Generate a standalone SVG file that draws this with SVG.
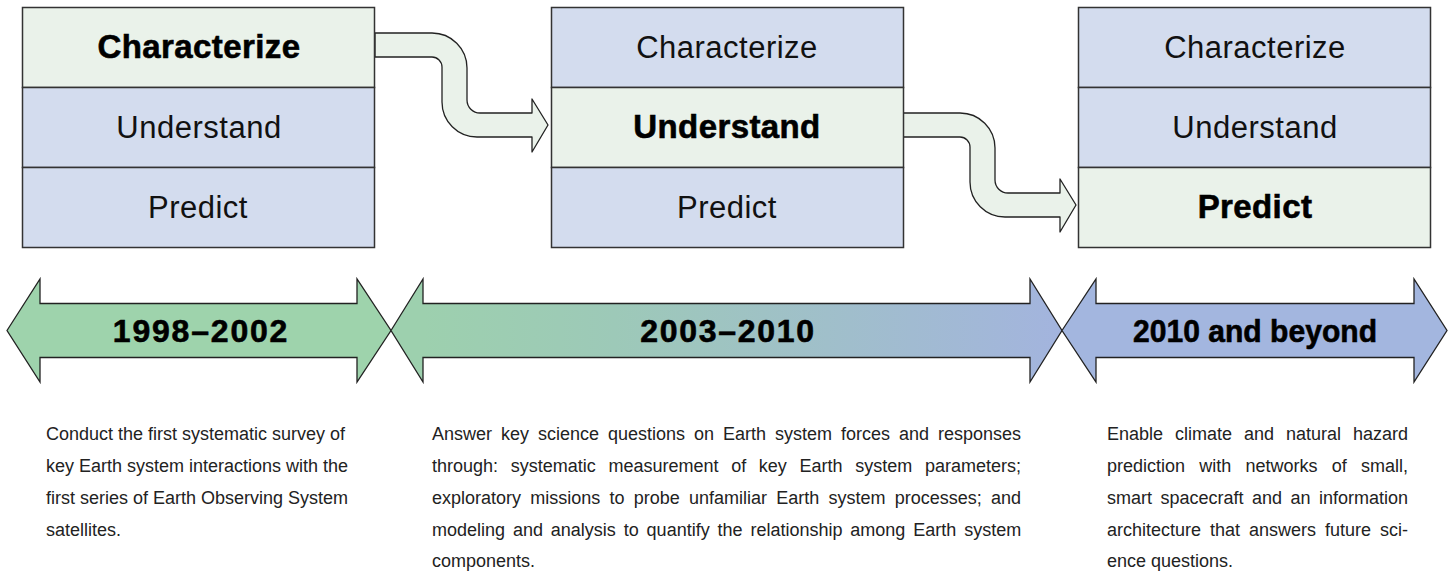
<svg xmlns="http://www.w3.org/2000/svg" width="1453" height="573" viewBox="0 0 1453 573">
<style>
.row{fill:#d3dcee;stroke:#333;stroke-width:1.5}
.hi{fill:#eaf2ea;stroke:#333;stroke-width:1.5}
.lbl{font-family:"Liberation Sans",Arial,sans-serif;font-size:31px;fill:#111;text-anchor:middle;letter-spacing:0.5px}
.lblb{font-family:"Liberation Sans",Arial,sans-serif;font-size:33px;font-weight:bold;fill:#000;text-anchor:middle;letter-spacing:0.4px;stroke:#000;stroke-width:0.6}
.conn{fill:#eaf2ea;stroke:#222;stroke-width:1.3;stroke-linejoin:round}
.tl{stroke:#222;stroke-width:1.3;stroke-linejoin:miter}
.tlt{font-family:"Liberation Sans",Arial,sans-serif;font-size:32px;font-weight:bold;fill:#000;text-anchor:middle;stroke:#000;stroke-width:0.6}
.desc{font-family:"Liberation Sans",Arial,sans-serif;font-size:18px;fill:#222}
</style>
<defs>
<linearGradient id="g2" gradientUnits="userSpaceOnUse" x1="423" y1="0" x2="1062" y2="0">
<stop offset="0" stop-color="#9dd0ae"/>
<stop offset="0.3" stop-color="#9dc9b8"/>
<stop offset="1" stop-color="#a3b4de"/>
</linearGradient>
<path id="conn" d="M375,33 H432 A35,35 0 0 1 467,68 V100 A13,13 0 0 0 480,113 H532 V99 L548,125 L532,152 V137 H477 A35,35 0 0 1 442,102 V67 A10,10 0 0 0 432,57 H375 Z"/>
</defs>

<g id="connectors">
<use href="#conn" class="conn"/>
<use href="#conn" class="conn" transform="translate(528,80)"/>
</g>

<g id="box1">
<rect class="hi" x="22.5" y="7.5" width="352" height="80"/>
<rect class="row" x="22.5" y="87.5" width="352" height="80"/>
<rect class="row" x="22.5" y="167.5" width="352" height="80"/>
<text class="lblb" x="199" y="58">Characterize</text>
<text class="lbl" x="199" y="138">Understand</text>
<text class="lbl" x="198" y="218">Predict</text>
</g>

<g id="box2">
<rect class="row" x="551.5" y="7.5" width="352" height="80"/>
<rect class="hi" x="551.5" y="87.5" width="352" height="80"/>
<rect class="row" x="551.5" y="167.5" width="352" height="80"/>
<text class="lbl" x="727" y="58">Characterize</text>
<text class="lblb" x="727" y="138">Understand</text>
<text class="lbl" x="727" y="218">Predict</text>
</g>

<g id="box3">
<rect class="row" x="1078.5" y="7.5" width="352" height="80"/>
<rect class="row" x="1078.5" y="87.5" width="352" height="80"/>
<rect class="hi" x="1078.5" y="167.5" width="352" height="80"/>
<text class="lbl" x="1255" y="58">Characterize</text>
<text class="lbl" x="1255" y="138">Understand</text>
<text class="lblb" x="1255" y="218">Predict</text>
</g>

<g id="period1">
<polygon class="tl" fill="#9ed3ac" points="7,330.5 40,279 40,303.5 357,303.5 357,279 391,330.5 357,382 357,357.5 40,357.5 40,382"/>
<text class="tlt" x="201" y="342" style="letter-spacing:1.8px">1998–2002</text>
</g>
<g id="period2">
<polygon class="tl" fill="url(#g2)" points="391,330.5 423,279 423,303.5 1030,303.5 1030,279 1062,330.5 1030,382 1030,357.5 423,357.5 423,382"/>
<text class="tlt" x="728" y="342" style="letter-spacing:1.7px">2003–2010</text>
</g>
<g id="period3">
<polygon class="tl" fill="#a3b6df" points="1062,330.5 1096,279 1096,303.5 1414,303.5 1414,279 1447,330.5 1414,382 1414,357.5 1096,357.5 1096,382"/>
<text class="tlt" x="1255" y="342" textLength="244" lengthAdjust="spacingAndGlyphs">2010 and beyond</text>
</g>

<g id="desc1" class="desc">
<text x="46" y="440">Conduct the first systematic survey of</text>
<text x="46" y="472">key Earth system interactions with the</text>
<text x="46" y="504">first series of Earth Observing System</text>
<text x="46" y="536">satellites.</text>
</g>

<g id="desc2" class="desc">
<text x="432" y="440" style="word-spacing:3.98px">Answer key science questions on Earth system forces and responses</text>
<text x="432" y="472" style="word-spacing:7.68px">through: systematic measurement of key Earth system parameters;</text>
<text x="432" y="504" style="word-spacing:4.22px">exploratory missions to probe unfamiliar Earth system processes; and</text>
<text x="432" y="536" style="word-spacing:2.87px">modeling and analysis to quantify the relationship among Earth system</text>
<text x="432" y="567">components.</text>
</g>

<g id="desc3" class="desc">
<text x="1107" y="440" style="word-spacing:6.97px">Enable climate and natural hazard</text>
<text x="1107" y="472" style="word-spacing:9.2px">prediction with networks of small,</text>
<text x="1107" y="504" style="word-spacing:3.47px">smart spacecraft and an information</text>
<text x="1107" y="536" style="word-spacing:3.97px">architecture that answers future sci-</text>
<text x="1107" y="567">ence questions.</text>
</g>
</svg>
